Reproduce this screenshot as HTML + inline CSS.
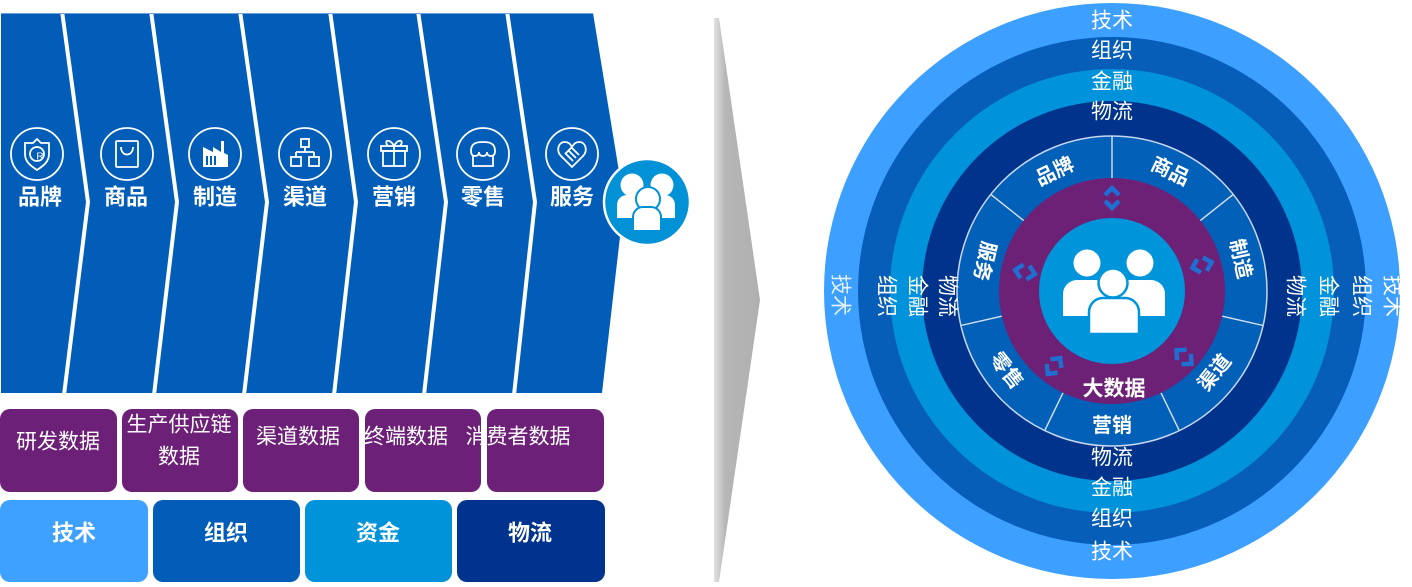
<!DOCTYPE html>
<html>
<head>
<meta charset="utf-8">
<style>
html,body{margin:0;padding:0;background:#fff;}
svg{display:block;}
text{font-family:"Liberation Sans","Noto Sans CJK SC",sans-serif;fill:#fff;}
.lb{font-size:22px;font-weight:bold;}
.pt{font-size:21px;}
.rt{font-size:21px;}
.sg{font-size:20px;font-weight:bold;}
</style>
</head>
<body>
<svg width="1412" height="587" viewBox="0 0 1412 587" xmlns="http://www.w3.org/2000/svg">
<defs>
<linearGradient id="gr" x1="0" y1="0" x2="1" y2="0">
<stop offset="0" stop-color="#e2e2e2"/>
<stop offset="0.25" stop-color="#b6b6b6"/>
<stop offset="1" stop-color="#b0b0b0"/>
</linearGradient>
</defs>

<!-- chevrons -->
<polygon points="1,13 593,13 624,202 602,393 1,393" fill="#015DB7"/>
<g stroke="#fff" stroke-width="4" fill="none" stroke-linejoin="miter">
<polyline points="62,11 88,202 64,395"/>
<polyline points="151,11 177,202 154,395"/>
<polyline points="240,11 267,202 244,395"/>
<polyline points="330,11 356,202 334,395"/>
<polyline points="418,11 446,202 424,395"/>
<polyline points="507,11 535,202 514,395"/>
</g>
<line x1="1" y1="13.5" x2="593" y2="13.5" stroke="#6f9fd8" stroke-width="1"/>

<!-- icons -->
<g stroke="#fff" stroke-width="1.8" fill="none">
 <g transform="translate(37,154)">
  <circle r="26"/>
  <path d="M0,-15 L4,-11 L12,-11 L12,0 C12,8 6,12 0,16 C-6,12 -12,8 -12,0 L-12,-11 L-4,-11 Z"/>
  <circle r="7"/>
 </g>
 <g transform="translate(127,154)">
  <circle r="26"/>
  <rect x="-11" y="-13" width="22" height="26" rx="1"/>
  <path d="M-6,-7 C-6,3 6,3 6,-7"/>
 </g>
 <g transform="translate(215,154)">
  <circle r="26"/>
 </g>
 <g transform="translate(305,154)">
  <circle r="26"/>
  <rect x="-4" y="-15" width="8" height="8"/>
  <path d="M0,-7 V-2 M-9,-2 H9 M-9,-2 V3 M9,-2 V3"/>
  <rect x="-14" y="3" width="10" height="9"/>
  <rect x="4" y="3" width="10" height="9"/>
 </g>
 <g transform="translate(394,154)">
  <circle r="26"/>
  <rect x="-11" y="-3" width="22" height="15"/>
  <rect x="-13" y="-8" width="26" height="5"/>
  <path d="M0,-8 V12 M0,-8 C-4,-16 -11,-14 -6,-8 M0,-8 C4,-16 11,-14 6,-8"/>
 </g>
 <g transform="translate(483,154)">
  <circle r="26"/>
  <path d="M-12,-3 C-12,-10 -8,-12 0,-12 C8,-12 12,-10 12,-3 Q12,2 8,2 Q4,2 4,-2 Q4,2 0,2 Q-4,2 -4,-2 Q-4,2 -8,2 Q-12,2 -12,-3 Z"/>
  <path d="M-10,2 V12 H10 V2"/>
 </g>
 <g transform="translate(572,154)">
  <circle r="26"/>
  <path d="M0,13 L-11,2 C-16,-3 -14,-12 -7,-12 C-3,-12 -1,-9 0,-7 C1,-9 3,-12 7,-12 C14,-12 16,-3 11,2 Z"/>
  <path d="M-7,-1 L1,7 M-4,-4 L4,4 M-1,-7 L7,1 M0,-7 L-7,0"/>
 </g>
</g>
<text x="40" y="157" text-anchor="middle" dominant-baseline="central" style="font-size:10px">R</text>
<g transform="translate(215,154)">
 <polygon points="-12,13 -12,-7 -2,-2 -2,-7 6,-2 6,-13 9,-13 9,-1 13,1 13,13" fill="#fff"/>
 <rect x="-9" y="2" width="2" height="9" fill="#015DB7"/>
 <rect x="-5" y="2" width="2" height="9" fill="#015DB7"/>
 <rect x="-1" y="2" width="2" height="9" fill="#015DB7"/>
</g>

<!-- chevron labels -->
<text class="lb" x="40" y="197" text-anchor="middle" dominant-baseline="central">品牌</text>
<text class="lb" x="126" y="197" text-anchor="middle" dominant-baseline="central">商品</text>
<text class="lb" x="215" y="197" text-anchor="middle" dominant-baseline="central">制造</text>
<text class="lb" x="305" y="197" text-anchor="middle" dominant-baseline="central">渠道</text>
<text class="lb" x="394" y="197" text-anchor="middle" dominant-baseline="central">营销</text>
<text class="lb" x="483" y="197" text-anchor="middle" dominant-baseline="central">零售</text>
<text class="lb" x="572" y="197" text-anchor="middle" dominant-baseline="central">服务</text>

<!-- small people circle -->
<circle cx="647" cy="202" r="43" fill="#0091D6" stroke="#fff" stroke-width="2.5"/>
<g fill="#fff">
 <circle cx="632" cy="185" r="11.5"/>
 <path d="M617,218 V205 A10,10 0 0 1 627,195 H640 A10,10 0 0 1 650,205 V218 Z"/>
 <circle cx="662" cy="185" r="11.5"/>
 <path d="M645,218 V205 A10,10 0 0 1 655,195 H665 A10,10 0 0 1 675,205 V218 Z"/>
 <circle cx="648" cy="199" r="12" stroke="#0091D6" stroke-width="2"/>
 <path d="M633,231 V217 A10,10 0 0 1 643,207 H651 A10,10 0 0 1 661,217 V231 Z" stroke="#0091D6" stroke-width="2"/>
</g>

<!-- purple data boxes -->
<g fill="#6D2077">
<rect x="0" y="409" width="117" height="83" rx="10"/>
<rect x="122" y="409" width="116" height="83" rx="10"/>
<rect x="243" y="409" width="116" height="83" rx="10"/>
<rect x="365" y="409" width="116" height="83" rx="10"/>
<rect x="487" y="409" width="117" height="83" rx="10"/>
</g>
<text class="pt" x="58" y="442" text-anchor="middle" dominant-baseline="central">研发数据</text>
<text class="pt" x="179" y="425" text-anchor="middle" dominant-baseline="central">生产供应链</text>
<text class="pt" x="179" y="457" text-anchor="middle" dominant-baseline="central">数据</text>
<text class="pt" x="298" y="437" text-anchor="middle" dominant-baseline="central">渠道数据</text>
<text class="pt" x="406" y="437" text-anchor="middle" dominant-baseline="central">终端数据</text>
<text class="pt" x="518" y="437" text-anchor="middle" dominant-baseline="central">消费者数据</text>

<!-- blue capability boxes -->
<rect x="0" y="500" width="148" height="82" rx="10" fill="#3FA1FF"/>
<rect x="153" y="500" width="147" height="82" rx="10" fill="#015DB7"/>
<rect x="305" y="500" width="147" height="82" rx="10" fill="#0093DA"/>
<rect x="457" y="500" width="148" height="82" rx="10" fill="#00338D"/>
<text class="lb" x="74" y="533" text-anchor="middle" dominant-baseline="central">技术</text>
<text class="lb" x="226" y="533" text-anchor="middle" dominant-baseline="central">组织</text>
<text class="lb" x="378" y="533" text-anchor="middle" dominant-baseline="central">资金</text>
<text class="lb" x="530" y="533" text-anchor="middle" dominant-baseline="central">物流</text>

<!-- gray arrow -->
<polygon points="714,18 719,18 760,300 719,582 714,582" fill="url(#gr)"/>

<!-- rings -->
<circle cx="1112" cy="291" r="288" fill="#3D9FFF"/>
<circle cx="1112" cy="291" r="254" fill="#075EB8"/>
<circle cx="1112" cy="291" r="222" fill="#0092DA"/>
<circle cx="1112" cy="291" r="190" fill="#00338C"/>
<circle cx="1112" cy="291" r="155" fill="#0360B9" stroke="#c8d6ee" stroke-width="1.5"/>

<!-- dividers -->
<g stroke="#d8e2f2" stroke-width="1.4">
<line x1="1112" y1="178" x2="1112" y2="136"/>
<line x1="1200.3" y1="220.6" x2="1233.2" y2="194.4"/>
<line x1="1222.2" y1="316.2" x2="1263.1" y2="325.5"/>
<line x1="1161.0" y1="392.8" x2="1179.3" y2="430.6"/>
<line x1="1063.0" y1="392.8" x2="1044.7" y2="430.6"/>
<line x1="1001.8" y1="316.2" x2="960.9" y2="325.5"/>
<line x1="1023.7" y1="220.6" x2="990.8" y2="194.4"/>
</g>

<circle cx="1112" cy="291" r="113" fill="#6C2177"/>
<circle cx="1112" cy="291" r="73" fill="#0094DA"/>

<!-- connector icons on purple ring -->
<g stroke="#1F6ED2" stroke-width="4.5" fill="none" stroke-linejoin="miter">
 <g transform="translate(1112,198) rotate(-90)"><polyline points="-3,-7 -10,0 -3,7"/><polyline points="3,-7 10,0 3,7"/></g>
 <g transform="translate(1202,265) rotate(-16)"><polyline points="-3,-7 -10,0 -3,7"/><polyline points="3,-7 10,0 3,7"/></g>
 <g transform="translate(1184,357) rotate(42)"><polyline points="-3,-7 -10,0 -3,7"/><polyline points="3,-7 10,0 3,7"/></g>
 <g transform="translate(1054,366) rotate(128)"><polyline points="-3,-7 -10,0 -3,7"/><polyline points="3,-7 10,0 3,7"/></g>
 <g transform="translate(1025,272) rotate(192)"><polyline points="-3,-7 -10,0 -3,7"/><polyline points="3,-7 10,0 3,7"/></g>
</g>

<!-- center people -->
<g fill="#fff">
 <circle cx="1087" cy="263" r="13.5"/>
 <path d="M1063,316 V294 A14,14 0 0 1 1077,280 H1096 A14,14 0 0 1 1110,294 V316 Z"/>
 <circle cx="1140" cy="263" r="13.5"/>
 <path d="M1115,316 V294 A14,14 0 0 1 1129,280 H1151 A14,14 0 0 1 1165,294 V316 Z"/>
 <circle cx="1113" cy="283" r="14.5" stroke="#0094DA" stroke-width="2.5"/>
 <path d="M1089,334 V312 A14,14 0 0 1 1103,298 H1125 A14,14 0 0 1 1139,312 V334 Z" stroke="#0094DA" stroke-width="2.5"/>
</g>

<text class="sg" x="1114" y="389" text-anchor="middle" dominant-baseline="central" style="font-size:21px">大数据</text>

<!-- segment labels -->
<text class="sg" text-anchor="middle" dominant-baseline="central" transform="translate(1055,172) rotate(-25.7)">品牌</text>
<text class="sg" text-anchor="middle" dominant-baseline="central" transform="translate(1170,172) rotate(25.7)">商品</text>
<text class="sg" text-anchor="middle" dominant-baseline="central" transform="translate(1240,259) rotate(77.1)">制造</text>
<text class="sg" text-anchor="middle" dominant-baseline="central" transform="translate(1215,373) rotate(-51.4)">渠道</text>
<text class="sg" text-anchor="middle" dominant-baseline="central" transform="translate(1112,426)">营销</text>
<text class="sg" text-anchor="middle" dominant-baseline="central" transform="translate(1006,371) rotate(51.4)">零售</text>
<text class="sg" text-anchor="middle" dominant-baseline="central" transform="translate(984,261) rotate(102.9)">服务</text>

<!-- ring labels top -->
<text class="rt" x="1112" y="21" text-anchor="middle" dominant-baseline="central">技术</text>
<text class="rt" x="1112" y="51" text-anchor="middle" dominant-baseline="central">组织</text>
<text class="rt" x="1112" y="82" text-anchor="middle" dominant-baseline="central">金融</text>
<text class="rt" x="1112" y="112" text-anchor="middle" dominant-baseline="central">物流</text>
<!-- bottom -->
<text class="rt" x="1112" y="458" text-anchor="middle" dominant-baseline="central">物流</text>
<text class="rt" x="1112" y="488" text-anchor="middle" dominant-baseline="central">金融</text>
<text class="rt" x="1112" y="519" text-anchor="middle" dominant-baseline="central">组织</text>
<text class="rt" x="1112" y="552" text-anchor="middle" dominant-baseline="central">技术</text>
<!-- left -->
<text class="rt" text-anchor="middle" dominant-baseline="central" transform="translate(840,295) rotate(90)" fill-opacity="0.85">技术</text>
<text class="rt" text-anchor="middle" dominant-baseline="central" transform="translate(886,296) rotate(90)">组织</text>
<text class="rt" text-anchor="middle" dominant-baseline="central" transform="translate(917,296) rotate(90)">金融</text>
<text class="rt" text-anchor="middle" dominant-baseline="central" transform="translate(947,296) rotate(90)">物流</text>
<!-- right -->
<text class="rt" text-anchor="middle" dominant-baseline="central" transform="translate(1295,296) rotate(90)">物流</text>
<text class="rt" text-anchor="middle" dominant-baseline="central" transform="translate(1328,296) rotate(90)">金融</text>
<text class="rt" text-anchor="middle" dominant-baseline="central" transform="translate(1361,296) rotate(90)">组织</text>
<text class="rt" text-anchor="middle" dominant-baseline="central" transform="translate(1392,296) rotate(90)">技术</text>
</svg>
</body>
</html>
